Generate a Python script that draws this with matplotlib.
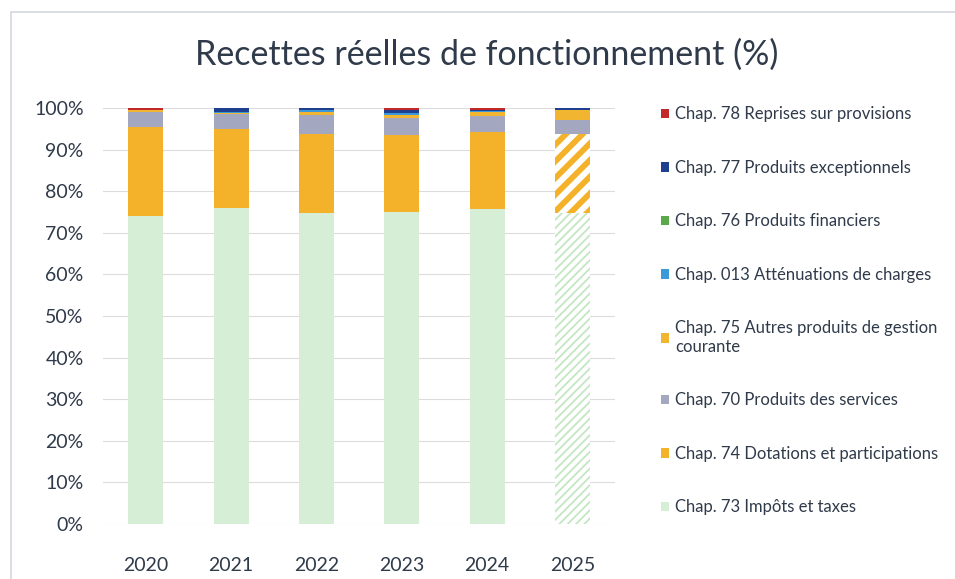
import numpy as np
import matplotlib
matplotlib.use("Agg")
import matplotlib.pyplot as plt
from matplotlib.patches import Rectangle
from matplotlib.ticker import PercentFormatter

years = ["2020", "2021", "2022", "2023", "2024", "2025"]

# stacking order, bottom to top
chap73 = [74.1, 76.0, 74.7, 75.1, 75.6, 74.7]   # Impôts et taxes
chap74 = [21.3, 18.9, 19.1, 18.4, 18.6, 19.1]   # Dotations et participations
chap70 = [3.6, 3.6, 4.6, 4.0, 3.8, 3.4]         # Produits des services
chap75 = [0.4, 0.4, 0.6, 0.7, 1.0, 2.2]         # Autres produits de gestion courante
chap013 = [0.1, 0.1, 0.4, 0.6, 0.2, 0.1]        # Atténuations de charges
chap76 = [0.0, 0.0, 0.0, 0.0, 0.0, 0.0]         # Produits financiers
chap77 = [0.0, 1.0, 0.6, 0.8, 0.4, 0.4]         # Produits exceptionnels
chap78 = [0.5, 0.0, 0.0, 0.4, 0.4, 0.0]         # Reprises sur provisions

series = [
    ("Chap. 73 Impôts et taxes", chap73, "#d6eed6"),
    ("Chap. 74 Dotations et participations", chap74, "#f3b22a"),
    ("Chap. 70 Produits des services", chap70, "#a3a7bf"),
    ("Chap. 75 Autres produits de gestion\ncourante", chap75, "#f2b531"),
    ("Chap. 013 Atténuations de charges", chap013, "#3a9ad9"),
    ("Chap. 76 Produits financiers", chap76, "#5aa84a"),
    ("Chap. 77 Produits exceptionnels", chap77, "#1f3f8f"),
    ("Chap. 78 Reprises sur provisions", chap78, "#c0282a"),
]

plt.rcParams["font.family"] = ["Lato", "DejaVu Sans"]
text_col = "#2f3a4a"

fig = plt.figure(figsize=(9.55, 5.79), dpi=100)
# chart area border (cut by the page on the right and bottom)
fig.patches.append(Rectangle((11 / 955, -0.1), 1.2, 1.1 - 12 / 579,
                             transform=fig.transFigure, fill=False,
                             edgecolor="#d3d7de", linewidth=1.2))
ax = fig.add_axes([0.108, 0.095, 0.536, 0.7185])

x = np.arange(len(years))
width = 0.41
bottom = np.zeros(len(years))
handles = []
for label, vals, col in series:
    vals = np.array(vals)
    bars = ax.bar(x[:-1], vals[:-1], width, bottom=bottom[:-1], color=col,
                  linewidth=0, label=label, zorder=2)
    # projected year drawn hatched
    if label.startswith("Chap. 73"):
        plt.rcParams["hatch.linewidth"] = 1.3
        ax.bar(x[-1], vals[-1], width, bottom=bottom[-1], facecolor="white",
               edgecolor="#c3e6c3", hatch="////", linewidth=0, zorder=2)
    elif label.startswith("Chap. 74"):
        plt.rcParams["hatch.linewidth"] = 4.2
        ax.bar(x[-1], vals[-1], width, bottom=bottom[-1], facecolor="white",
               edgecolor=col, hatch="//", linewidth=0, zorder=2)
    else:
        ax.bar(x[-1], vals[-1], width, bottom=bottom[-1], color=col,
               linewidth=0, zorder=2)
    handles.append(bars)
    bottom += vals

ax.set_xlim(-0.5, len(years) - 0.5)
ax.set_ylim(0, 100)
ax.set_yticks(np.arange(0, 101, 10))
ax.yaxis.set_major_formatter(PercentFormatter(decimals=0))
ax.set_xticks(x)
ax.set_xticklabels(years)
ax.tick_params(axis="both", length=0, labelsize=14, colors=text_col)
ax.tick_params(axis="y", pad=14)
ax.tick_params(axis="x", pad=24)
ax.grid(axis="y", color="#dcdcdc", linewidth=0.8, zorder=0)
for s in ax.spines.values():
    s.set_visible(False)

fig.text(0.51, 0.905, "Recettes réelles de fonctionnement (%)", ha="center",
         va="center", fontsize=24.5, color=text_col)

leg = ax.legend(handles=handles[::-1], loc="upper left",
                bbox_to_anchor=(1.06, 1.04), frameon=False, fontsize=12,
                handlelength=0.5, handleheight=0.5, handletextpad=0.35,
                labelspacing=2.25, labelcolor=text_col)

fig.savefig("out.png", dpi=100)
